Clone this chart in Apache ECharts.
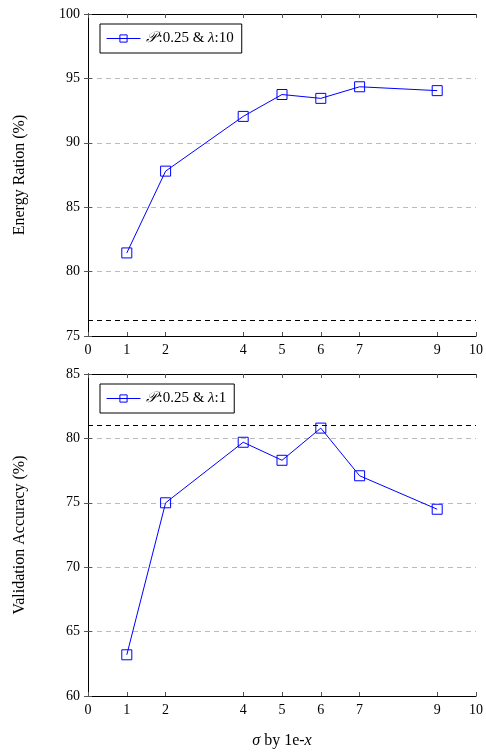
<!DOCTYPE html>
<html><head><meta charset="utf-8">
<script src="https://cdn.jsdelivr.net/npm/echarts@6/dist/echarts.min.js"></script>
<style>html,body{margin:0;padding:0;background:#fff;}#c{width:486px;height:753px;}</style>
</head><body><div id="c"></div>
<script>
const xTicks = [0, 1, 2, 4, 5, 6, 7, 9, 10];
const sigmaX = [1, 2, 4, 5, 6, 7, 9];
const energy = [81.45, 87.8, 92.05, 93.75, 93.45, 94.35, 94.05];
const accuracy = [63.2, 75.0, 79.7, 78.3, 80.8, 77.1, 74.5];
const energyBaseline = 76.2;
const accuracyBaseline = 81.0;
const energyName = '{c|𝒫}:0.25 & {i|λ}:10';
const accuracyName = '{c|𝒫}:0.25 & {i|λ}:1';

const FONT = '"Liberation Serif", "DejaVu Serif", serif';
const blue = '#0000ff';
const rich = {
  c: {fontFamily: FONT, fontStyle: 'italic', fontSize: 15, color: '#000', padding: [0, 2, 0, 0]},
  i: {fontFamily: FONT, fontStyle: 'italic', fontSize: 15, color: '#000'}
};

function xAxes(gi, bottomName) {
  const base = {
    type: 'value', min: 0, max: 10, gridIndex: gi,
    axisLine: {show: true, onZero: false, lineStyle: {color: '#000', width: 1}},
    splitLine: {show: false}
  };
  return [
    Object.assign({}, base, {
      position: 'bottom',
      axisTick: {show: true, inside: true, length: 4, customValues: xTicks, lineStyle: {color: '#555'}},
      axisLabel: {show: true, customValues: xTicks, fontFamily: FONT, fontSize: 14, color: '#000', margin: 7},
      name: bottomName ? '{i|σ} by 1e-{i|x}' : '',
      nameLocation: 'middle', nameGap: 37,
      nameTextStyle: {fontFamily: FONT, fontSize: 16, color: '#000', rich: {i: {fontFamily: FONT, fontStyle: 'italic', fontSize: 16, color: '#000'}}}
    }),
    Object.assign({}, base, {
      position: 'top',
      axisTick: {show: true, inside: true, length: 4, customValues: xTicks, lineStyle: {color: '#555'}},
      axisLabel: {show: false}
    })
  ];
}
function yAxes(gi, min, max, name) {
  const base = {
    type: 'value', min: min, max: max, interval: 5, gridIndex: gi,
    axisLine: {show: true, lineStyle: {color: '#000', width: 1}},
    axisTick: {show: true, inside: true, length: 4, lineStyle: {color: '#555'}}
  };
  return [
    Object.assign({}, base, {
      position: 'left',
      splitLine: {show: true, lineStyle: {color: '#bbb', type: [5, 4], width: 1}},
      axisLabel: {fontFamily: FONT, fontSize: 14, color: '#000', margin: 8},
      name: name, nameLocation: 'middle', nameGap: 60,
      nameTextStyle: {fontFamily: FONT, fontSize: 16, color: '#000'}
    }),
    Object.assign({}, base, {
      position: 'right',
      splitLine: {show: false},
      axisLabel: {show: false}
    })
  ];
}
function lineSeries(name, vals, xi, yi, baseline) {
  return {
    type: 'line', name: name, xAxisIndex: xi, yAxisIndex: yi,
    data: sigmaX.map((x, i) => [x, vals[i]]),
    symbol: 'rect', symbolSize: 10,
    lineStyle: {color: blue, width: 1},
    itemStyle: {color: 'rgba(255,255,255,0)', borderColor: blue, borderWidth: 1},
    emphasis: {disabled: true},
    markLine: {
      silent: true, symbol: 'none', label: {show: false},
      lineStyle: {color: '#000', type: [5, 4], width: 1},
      data: [{yAxis: baseline}]
    },
    animation: false
  };
}
function legend(name, top) {
  return {
    data: [name], left: 100, top: top, orient: 'horizontal',
    backgroundColor: '#fff', borderColor: '#000', borderWidth: 1,
    padding: [7, 8, 7, 6], itemWidth: 34, itemHeight: 9, itemGap: 5,
    selectedMode: false,
    lineStyle: {width: 1, color: blue},
    itemStyle: {borderWidth: 1, borderColor: blue, color: 'rgba(255,255,255,0)'},
    textStyle: {fontFamily: FONT, fontSize: 15, color: '#000', rich: rich}
  };
}

const chart = echarts.init(document.getElementById('c'), null, {renderer: 'canvas'});
chart.setOption({
  animation: false,
  backgroundColor: '#fff',
  grid: [
    {left: 88, top: 14, width: 389, height: 322},
    {left: 88, top: 374, width: 389, height: 322}
  ],
  xAxis: [...xAxes(0, false), ...xAxes(1, true)],
  yAxis: [...yAxes(0, 75, 100, 'Energy Ration (%)'), ...yAxes(1, 60, 85, 'Validation Accuracy (%)')],
  legend: [legend(energyName, 24), legend(accuracyName, 384)],
  series: [
    lineSeries(energyName, energy, 0, 0, energyBaseline),
    lineSeries(accuracyName, accuracy, 2, 2, accuracyBaseline)
  ]
});
</script></body></html>
